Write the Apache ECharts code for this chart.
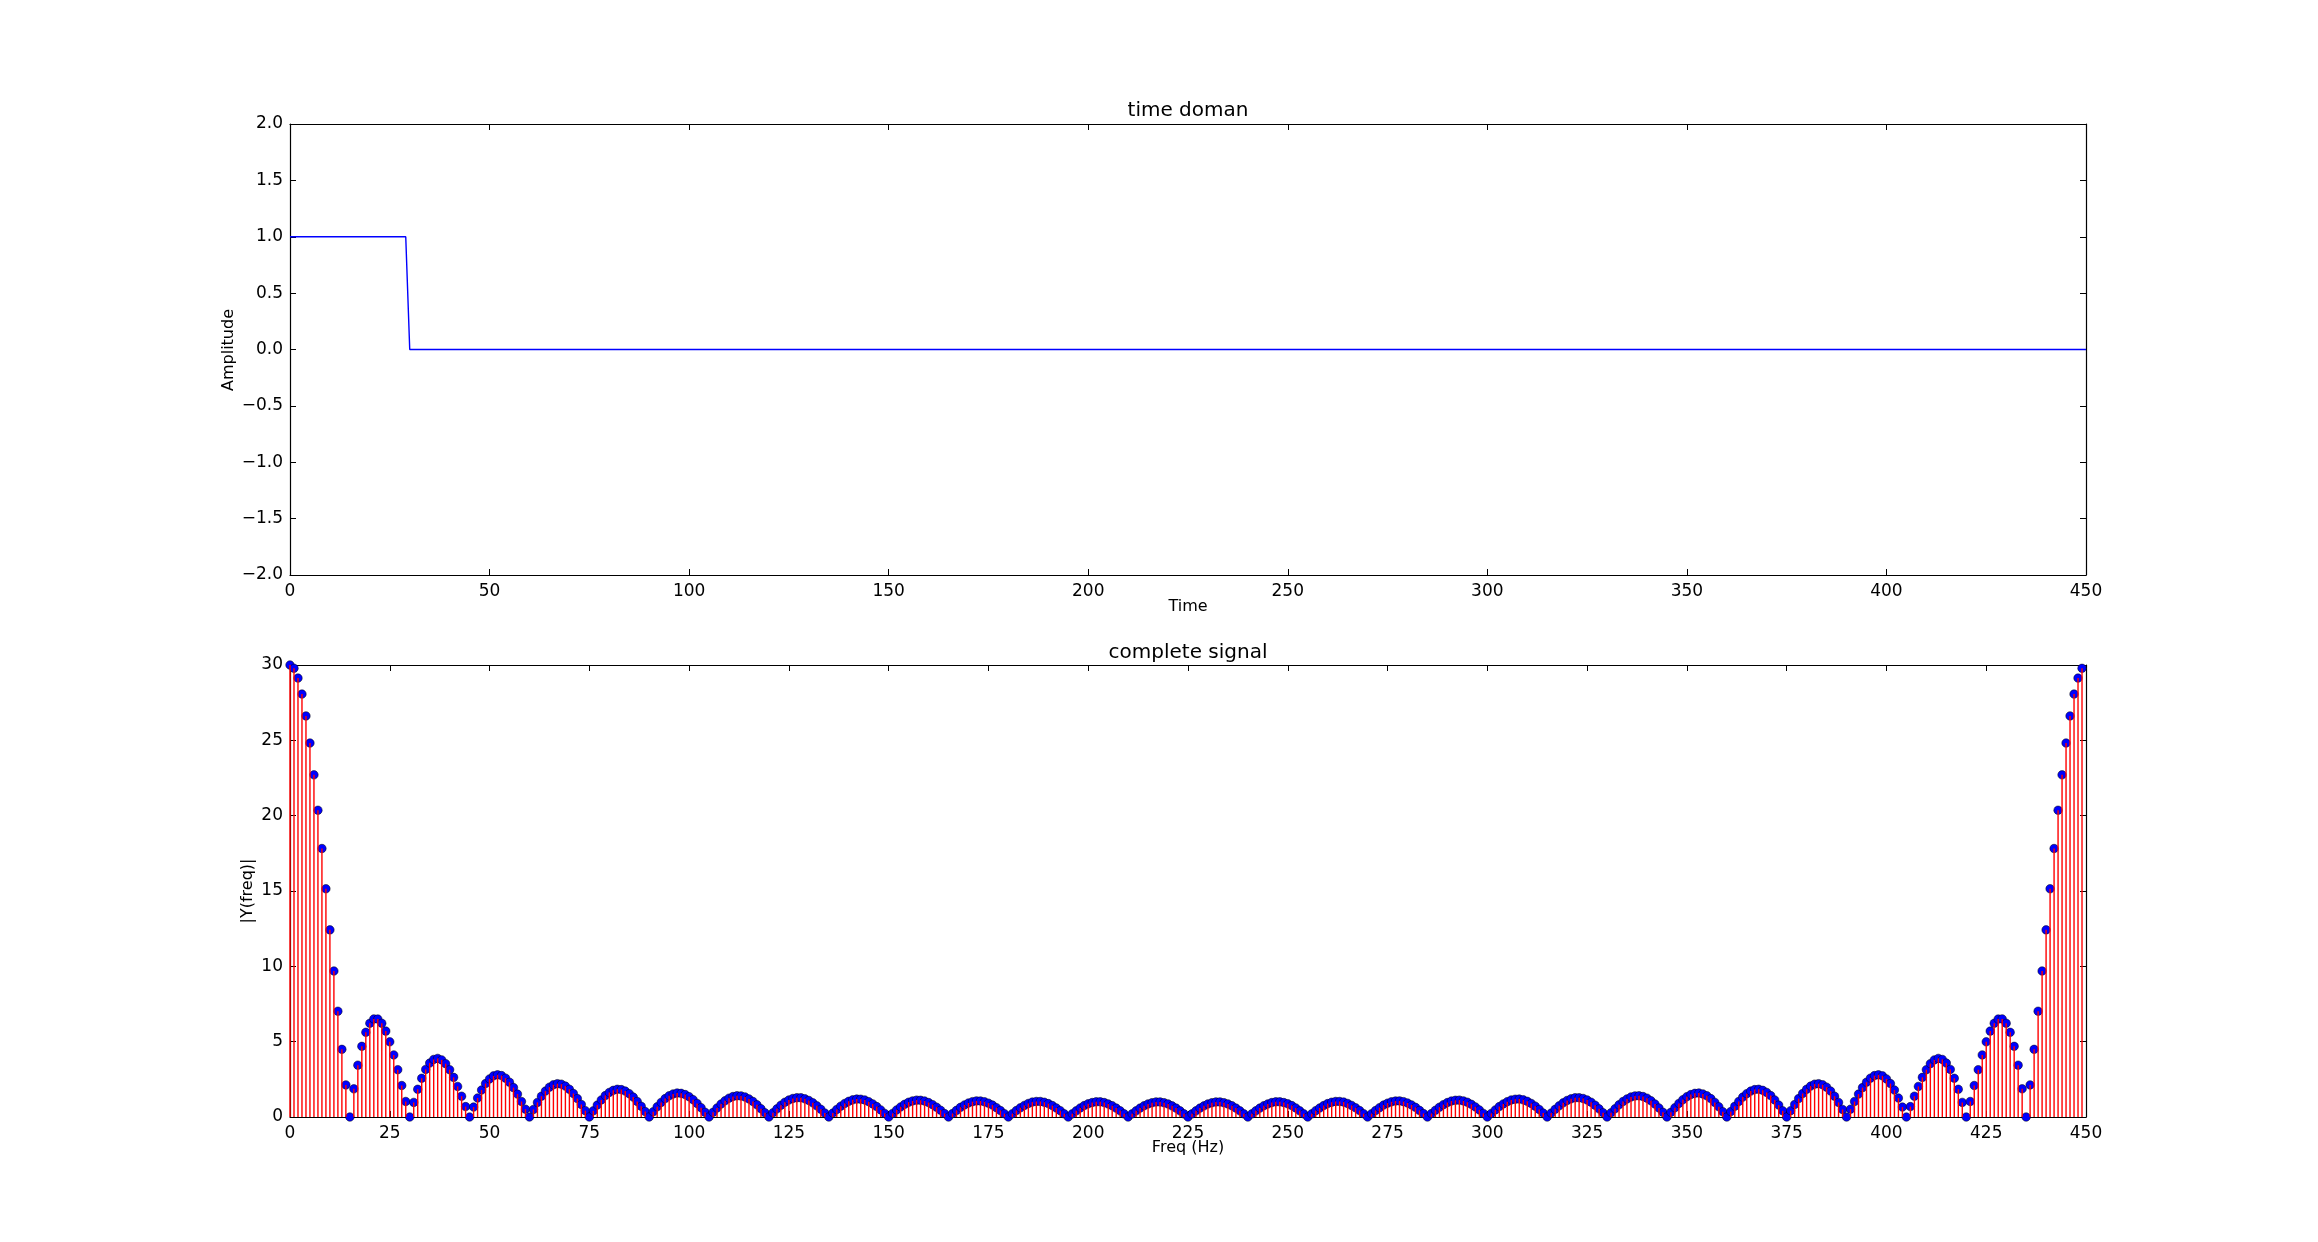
<!DOCTYPE html>
<html>
<head>
<meta charset="utf-8">
<script src="https://cdn.jsdelivr.net/npm/echarts@6/dist/echarts.min.js"></script>
<style>
html,body{margin:0;padding:0;background:#fff;}
#chart{width:2318px;height:1242px;}
</style>
</head>
<body>
<div id="chart"></div>
<script>
// ---- data ----
const timeX = [0, 29, 30, 450];
const amplitude = [1, 1, 0, 0];

const timeTicks = [0, 50, 100, 150, 200, 250, 300, 350, 400, 450];
const freqTicks = [0, 25, 50, 75, 100, 125, 150, 175, 200, 225, 250, 275, 300, 325, 350, 375, 400, 425, 450];
const amplitudeTicks = [-2.0, -1.5, -1.0, -0.5, 0.0, 0.5, 1.0, 1.5, 2.0];
const magnitudeTicks = [0, 5, 10, 15, 20, 25, 30];

// |Y(freq)| at freq = 0,1,2,...,449 Hz
const magnitude = [
30, 29.78, 29.13, 28.07, 26.62, 24.82, 22.71, 20.36, 17.82, 15.15, 12.42, 9.69, 7.02, 4.49, 2.13,
0, 1.87, 3.44, 4.69, 5.62, 6.22, 6.51, 6.50, 6.22, 5.70, 4.99, 4.12, 3.14, 2.09, 1.03,
0, 0.97, 1.84, 2.57, 3.16, 3.58, 3.82, 3.89, 3.79, 3.54, 3.14, 2.63, 2.03, 1.38, 0.69,
0, 0.66, 1.26, 1.79, 2.22, 2.53, 2.73, 2.80, 2.75, 2.58, 2.31, 1.95, 1.52, 1.03, 0.52,
0, 0.50, 0.97, 1.38, 1.72, 1.98, 2.14, 2.21, 2.18, 2.05, 1.84, 1.56, 1.22, 0.83, 0.42,
0, 0.41, 0.79, 1.13, 1.42, 1.63, 1.77, 1.84, 1.82, 1.72, 1.55, 1.32, 1.03, 0.71, 0.36,
0, 0.35, 0.68, 0.97, 1.22, 1.41, 1.53, 1.59, 1.57, 1.49, 1.35, 1.15, 0.90, 0.62, 0.31,
0, 0.31, 0.60, 0.86, 1.08, 1.25, 1.36, 1.41, 1.40, 1.33, 1.20, 1.03, 0.81, 0.55, 0.28,
0, 0.28, 0.54, 0.78, 0.98, 1.13, 1.23, 1.28, 1.28, 1.21, 1.10, 0.94, 0.74, 0.51, 0.26,
0, 0.26, 0.50, 0.72, 0.90, 1.04, 1.14, 1.19, 1.18, 1.13, 1.02, 0.87, 0.69, 0.47, 0.24,
0, 0.24, 0.47, 0.67, 0.84, 0.98, 1.07, 1.12, 1.11, 1.06, 0.96, 0.82, 0.65, 0.45, 0.23,
0, 0.23, 0.44, 0.64, 0.80, 0.93, 1.02, 1.07, 1.06, 1.01, 0.92, 0.79, 0.62, 0.43, 0.22,
0, 0.22, 0.43, 0.61, 0.77, 0.90, 0.99, 1.03, 1.03, 0.98, 0.89, 0.76, 0.60, 0.42, 0.21,
0, 0.21, 0.41, 0.60, 0.76, 0.88, 0.96, 1.01, 1.01, 0.96, 0.87, 0.75, 0.59, 0.41, 0.21,
0, 0.21, 0.41, 0.59, 0.75, 0.87, 0.95, 1.00, 1.00, 0.95, 0.87, 0.74, 0.59, 0.41, 0.21,
0, 0.21, 0.41, 0.59, 0.74, 0.87, 0.95, 1.00, 1.00, 0.95, 0.87, 0.75, 0.59, 0.41, 0.21,
0, 0.21, 0.41, 0.59, 0.75, 0.87, 0.96, 1.01, 1.01, 0.96, 0.88, 0.76, 0.60, 0.41, 0.21,
0, 0.21, 0.42, 0.60, 0.76, 0.89, 0.98, 1.03, 1.03, 0.99, 0.90, 0.77, 0.61, 0.43, 0.22,
0, 0.22, 0.43, 0.62, 0.79, 0.92, 1.01, 1.06, 1.07, 1.02, 0.93, 0.80, 0.64, 0.44, 0.23,
0, 0.23, 0.45, 0.65, 0.82, 0.96, 1.06, 1.11, 1.12, 1.07, 0.98, 0.84, 0.67, 0.47, 0.24,
0, 0.24, 0.47, 0.69, 0.87, 1.02, 1.13, 1.18, 1.19, 1.14, 1.04, 0.90, 0.72, 0.50, 0.26,
0, 0.26, 0.51, 0.74, 0.94, 1.10, 1.21, 1.28, 1.28, 1.23, 1.13, 0.98, 0.78, 0.54, 0.28,
0, 0.28, 0.55, 0.81, 1.03, 1.20, 1.33, 1.40, 1.41, 1.36, 1.25, 1.08, 0.86, 0.60, 0.31,
0, 0.31, 0.62, 0.90, 1.15, 1.35, 1.49, 1.57, 1.59, 1.53, 1.41, 1.22, 0.97, 0.68, 0.35,
0, 0.36, 0.71, 1.03, 1.32, 1.55, 1.72, 1.82, 1.84, 1.77, 1.63, 1.42, 1.13, 0.79, 0.41,
0, 0.42, 0.83, 1.22, 1.56, 1.84, 2.05, 2.18, 2.21, 2.14, 1.98, 1.72, 1.38, 0.97, 0.50,
0, 0.52, 1.03, 1.52, 1.95, 2.31, 2.58, 2.75, 2.80, 2.73, 2.53, 2.22, 1.79, 1.26, 0.66,
0, 0.69, 1.38, 2.03, 2.63, 3.14, 3.54, 3.79, 3.89, 3.82, 3.58, 3.16, 2.57, 1.84, 0.97,
0, 1.03, 2.09, 3.14, 4.12, 4.99, 5.70, 6.22, 6.50, 6.51, 6.22, 5.62, 4.69, 3.44, 1.87,
0, 2.13, 4.49, 7.02, 9.69, 12.42, 15.15, 17.82, 20.36, 22.71, 24.82, 26.62, 28.07, 29.13, 29.78
];
const freqStep = 1; // Hz between bins

// ---- chart ----
const FONT = '"DejaVu Sans", "Liberation Sans", sans-serif';
const GRID_LEFT = 290, GRID_W = 1796, GRID_H = 452;
const TOP1 = 124, TOP2 = 665;
const CX = GRID_LEFT + GRID_W / 2;
const TICK_FS = 17;

function fmtAmp(v) {
  return (v < 0 ? '\u2212' : '') + Math.abs(v).toFixed(1);
}

function baseAxis(extra) {
  return Object.assign({
    type: 'value',
    axisLine: { show: true, onZero: false, lineStyle: { color: '#000', width: 1.2 } },
    axisTick: { show: true, inside: true, length: 6, lineStyle: { color: '#000', width: 1 } },
    splitLine: { show: false },
    axisLabel: { show: true, color: '#000', fontSize: TICK_FS, fontFamily: FONT }
  }, extra);
}

const chart = echarts.init(document.getElementById('chart'), null, { renderer: 'canvas' });

const option = {
  backgroundColor: '#fff',
  animation: false,
  grid: [
    { left: GRID_LEFT, top: TOP1, width: GRID_W, height: GRID_H - 1, containLabel: false },
    { left: GRID_LEFT, top: TOP2, width: GRID_W, height: GRID_H, containLabel: false }
  ],
  xAxis: [
    baseAxis({ gridIndex: 0, position: 'bottom', min: timeTicks[0], max: timeTicks[timeTicks.length - 1], interval: timeTicks[1] - timeTicks[0],
      axisLabel: { color: '#000', fontSize: TICK_FS, fontFamily: FONT, margin: 8 } }),
    baseAxis({ gridIndex: 0, position: 'top', min: timeTicks[0], max: timeTicks[timeTicks.length - 1], interval: timeTicks[1] - timeTicks[0],
      axisLabel: { show: false } }),
    baseAxis({ gridIndex: 1, position: 'bottom', min: freqTicks[0], max: freqTicks[freqTicks.length - 1], interval: freqTicks[1] - freqTicks[0],
      axisLabel: { color: '#000', fontSize: TICK_FS, fontFamily: FONT, margin: 8 } }),
    baseAxis({ gridIndex: 1, position: 'top', min: freqTicks[0], max: freqTicks[freqTicks.length - 1], interval: freqTicks[1] - freqTicks[0],
      axisLabel: { show: false } })
  ],
  yAxis: [
    baseAxis({ gridIndex: 0, position: 'left', min: amplitudeTicks[0], max: amplitudeTicks[amplitudeTicks.length - 1], interval: amplitudeTicks[1] - amplitudeTicks[0],
      axisLabel: { color: '#000', fontSize: TICK_FS, fontFamily: FONT, margin: 7, formatter: fmtAmp } }),
    baseAxis({ gridIndex: 0, position: 'right', min: amplitudeTicks[0], max: amplitudeTicks[amplitudeTicks.length - 1], interval: amplitudeTicks[1] - amplitudeTicks[0],
      axisLabel: { show: false } }),
    baseAxis({ gridIndex: 1, position: 'left', min: magnitudeTicks[0], max: magnitudeTicks[magnitudeTicks.length - 1], interval: magnitudeTicks[1] - magnitudeTicks[0],
      axisLabel: { color: '#000', fontSize: TICK_FS, fontFamily: FONT, margin: 7 } }),
    baseAxis({ gridIndex: 1, position: 'right', min: magnitudeTicks[0], max: magnitudeTicks[magnitudeTicks.length - 1], interval: magnitudeTicks[1] - magnitudeTicks[0],
      axisLabel: { show: false } })
  ],
  series: [
    {
      type: 'line', xAxisIndex: 0, yAxisIndex: 0,
      data: timeX.map((t, i) => [t, amplitude[i]]),
      symbol: 'none', lineStyle: { color: '#0000ff', width: 1.4 }, itemStyle: { color: '#0000ff' },
      clip: true, z: 3
    },
    {
      type: 'scatter', xAxisIndex: 2, yAxisIndex: 2,
      data: magnitude.map((v, i) => [i * freqStep, v]),
      symbol: 'circle', symbolSize: 8.5,
      itemStyle: { color: '#0000ff', borderColor: '#000', borderWidth: 0.5, opacity: 1 },
      clip: true, z: 2
    },
    {
      type: 'bar', xAxisIndex: 2, yAxisIndex: 2,
      data: magnitude.map((v, i) => [i * freqStep, v]),
      barWidth: 1.4, itemStyle: { color: '#ff0000' },
      clip: true, z: 3
    }
  ],
  graphic: [
    { type: 'text', x: CX, y: 111, style: { text: 'time doman', fill: '#000', font: '20px ' + FONT, textAlign: 'center', textVerticalAlign: 'middle', align: 'center', verticalAlign: 'middle' } },
    { type: 'text', x: CX, y: 653, style: { text: 'complete signal', fill: '#000', font: '20px ' + FONT, textAlign: 'center', textVerticalAlign: 'middle', align: 'center', verticalAlign: 'middle' } },
    { type: 'text', x: CX, y: 607, style: { text: 'Time', fill: '#000', font: '16px ' + FONT, textAlign: 'center', textVerticalAlign: 'middle', align: 'center', verticalAlign: 'middle' } },
    { type: 'text', x: CX, y: 1148, style: { text: 'Freq (Hz)', fill: '#000', font: '16px ' + FONT, textAlign: 'center', textVerticalAlign: 'middle', align: 'center', verticalAlign: 'middle' } },
    { type: 'text', x: 229, y: TOP1 + GRID_H / 2, rotation: Math.PI / 2, style: { text: 'Amplitude', fill: '#000', font: '16px ' + FONT, textAlign: 'center', textVerticalAlign: 'middle', align: 'center', verticalAlign: 'middle' } },
    { type: 'text', x: 248, y: TOP2 + GRID_H / 2, rotation: Math.PI / 2, style: { text: '|Y(freq)|', fill: '#000', font: '16px ' + FONT, textAlign: 'center', textVerticalAlign: 'middle', align: 'center', verticalAlign: 'middle' } }
  ]
};

chart.setOption(option);
</script>
</body>
</html>
